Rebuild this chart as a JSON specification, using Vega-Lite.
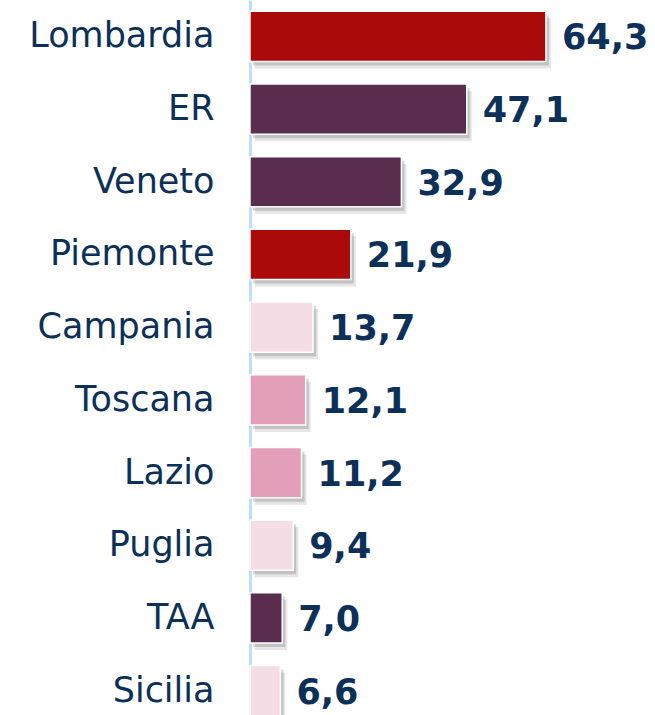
{
  "$schema": "https://vega.github.io/schema/vega-lite/v6.json",
  "autosize": "none",
  "width": 405,
  "height": 727,
  "padding": {"left": 250, "top": 0, "right": 0, "bottom": 0},
  "background": "white",
  "config": {"view": {"stroke": null}},
  "data": {"values": [
    {"region": "Lombardia", "value": 64.3, "label": "64,3", "group": "a"},
    {"region": "ER", "value": 47.1, "label": "47,1", "group": "b"},
    {"region": "Veneto", "value": 32.9, "label": "32,9", "group": "b"},
    {"region": "Piemonte", "value": 21.9, "label": "21,9", "group": "a"},
    {"region": "Campania", "value": 13.7, "label": "13,7", "group": "c"},
    {"region": "Toscana", "value": 12.1, "label": "12,1", "group": "d"},
    {"region": "Lazio", "value": 11.2, "label": "11,2", "group": "d"},
    {"region": "Puglia", "value": 9.4, "label": "9,4", "group": "c"},
    {"region": "TAA", "value": 7.0, "label": "7,0", "group": "b"},
    {"region": "Sicilia", "value": 6.6, "label": "6,6", "group": "c"}
  ]},
  "encoding": {
    "y": {
      "field": "region", "type": "nominal", "sort": null,
      "scale": {"paddingInner": 0.31, "paddingOuter": 0.155},
      "axis": {
        "title": null, "ticks": false, "domain": true,
        "domainColor": "#bcdffb", "domainWidth": 3,
        "labelFont": "DejaVu Sans", "labelFontSize": 35, "labelColor": "#0c3057",
        "labelPadding": 36, "labelLimit": 300
      }
    },
    "x": {"field": "value", "type": "quantitative", "scale": {"domain": [0, 88]}, "axis": null}
  },
  "layer": [
    {"mark": {"type": "bar", "xOffset": 3, "yOffset": 4, "color": "#000000", "opacity": 0.15}},
    {"mark": {"type": "bar", "xOffset": 5, "yOffset": 7, "color": "#000000", "opacity": 0.1}},
    {
      "mark": {"type": "bar", "stroke": "white", "strokeWidth": 1.5},
      "encoding": {
        "color": {
          "field": "group", "type": "nominal", "legend": null,
          "scale": {"domain": ["a", "b", "c", "d"], "range": ["#ab0a0a", "#5a2c4d", "#f5dde6", "#e39fba"]}
        }
      }
    },
    {
      "mark": {"type": "text", "align": "left", "baseline": "middle", "dx": 16, "dy": 2,
               "font": "DejaVu Sans", "fontWeight": "bold", "fontSize": 35, "color": "#0c3057"},
      "encoding": {"text": {"field": "label"}}
    }
  ]
}
